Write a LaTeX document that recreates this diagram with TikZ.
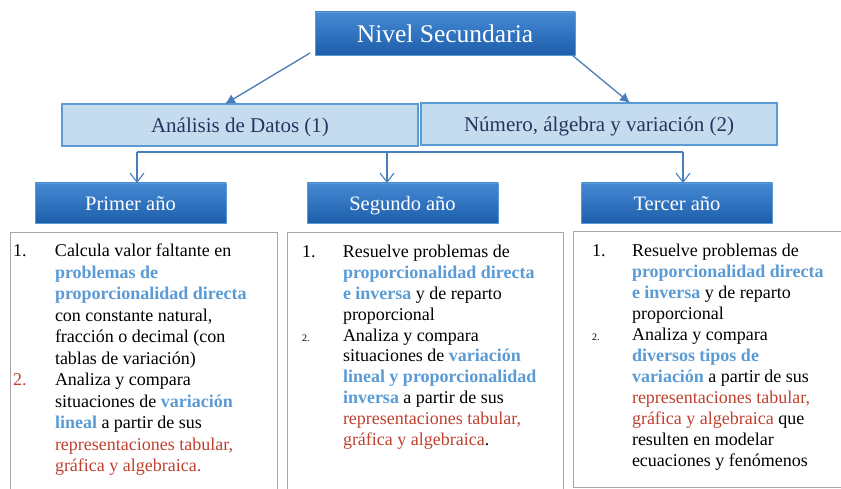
\documentclass[tikz,border=0pt]{standalone}
\usepackage{fontspec}
\setmainfont{Liberation Serif}
\usetikzlibrary{arrows.meta}
\definecolor{dkblue}{HTML}{1C5EAB}
\definecolor{mdblue}{HTML}{4689D3}
\definecolor{edgeblue}{HTML}{5B9BD5}
\definecolor{lightfill}{HTML}{C5DCEF}
\definecolor{navytext}{HTML}{26355E}
\definecolor{arrowblue}{HTML}{4A7EBB}
\definecolor{hlblue}{HTML}{5B9BD5}
\definecolor{hlred}{HTML}{C0412F}
\definecolor{panelgray}{HTML}{A6A6A6}
\newcommand{\hlB}[1]{\textcolor{hlblue}{\textbf{#1}}}
\newcommand{\hlR}[1]{\textcolor{hlred}{#1}}
\begin{document}
\begin{tikzpicture}[x=1pt,y=-1pt,
  darkbox/.style={draw=edgeblue, line width=0.6pt, top color=mdblue, bottom color=dkblue, text=white, inner sep=0pt, outer sep=0pt},
  lightbox/.style={draw=edgeblue, line width=1.4pt, fill=lightfill, text=navytext, inner sep=0pt, outer sep=0pt, minimum width=356pt, minimum height=42pt, text height=18pt, text depth=2pt, font=\fontsize{21}{25}\selectfont},
  yearbox/.style={darkbox, minimum width=191pt, minimum height=40pt, text height=18pt, text depth=2pt, font=\fontsize{20.5}{24}\selectfont},
  panel/.style={draw=panelgray, line width=1pt, fill=white, inner sep=0pt, outer sep=0pt, anchor=north west},
  itemtext/.style={anchor=base west, inner sep=0pt, outer sep=0pt},
  solidarrow/.style={draw=arrowblue, line width=1.3pt, -{Latex[length=10pt,width=10pt]}},
  openarrow/.style={draw=arrowblue, line width=1.1pt, -{Straight Barb[length=9pt,width=14pt]}},
  barline/.style={draw=arrowblue, line width=1.1pt},
]
\path[use as bounding box, clip] (0,0) rectangle (841,489);
\fill[white] (0,0) rectangle (841,489);

% top level
\node[darkbox, minimum width=260pt, minimum height=43pt, font=\fontsize{25.5}{30}\selectfont] (top) at (445,33.5) {Nivel Secundaria};

% second level
\node[lightbox] (ana) at (240,125) {Análisis de Datos (1)};
\node[lightbox] (num) at (599,124) {Número, álgebra y variación (2)};

% years
\node[yearbox] (y1) at (130.5,203) {Primer año};
\node[yearbox] (y2) at (402.5,203) {Segundo año};
\node[yearbox] (y3) at (677,203) {Tercer año};

% arrows top
\draw[solidarrow] ([shift={(-5,-2)}]top.south west) -- ([xshift=-15pt]ana.north);
\draw[solidarrow] ([xshift=-3pt]top.south east) -- ([xshift=31pt]num.north);

% bracket
\coordinate (j1) at (137,152);
\coordinate (j2) at (387,152);
\coordinate (j3) at (683,152);
\draw[barline] (j1) -- (j3);
\draw[openarrow] (j1) -- (j1 |- y1.north);
\draw[openarrow] (j2) -- (j2 |- y2.north);
\draw[openarrow] (j3) -- (j3 |- y3.north);

% panels
\node[panel, minimum width=267pt, minimum height=280pt] (p1) at (10,233) {};
\node[panel, minimum width=276pt, minimum height=280pt] (p2) at (287,233) {};
\node[panel, minimum width=290pt, minimum height=255pt] (p3) at (573,232) {};

% panel texts
\node[itemtext] (l1) at (13,257) {\fontsize{18}{21.5}\selectfont
\begin{tabular}[t]{@{}p{42pt}@{}l@{}}
1. & Calcula valor faltante en\\
 & \hlB{problemas de}\\
 & \hlB{proporcionalidad directa}\\
 & con constante natural,\\
 & fracción o decimal (con\\
 & tablas de variación)\\
\hlR{2.} & Analiza y compara\\
 & situaciones de \hlB{variación}\\
 & \hlB{lineal} a partir de sus\\
 & \hlR{representaciones tabular,}\\
 & \hlR{gráfica y algebraica.}
\end{tabular}};

\node[itemtext] (l2) at (302,258) {\fontsize{18}{20.8}\selectfont
\begin{tabular}[t]{@{}p{41pt}@{}l@{}}
1. & Resuelve problemas de\\
 & \hlB{proporcionalidad directa}\\
 & \hlB{e inversa} y de reparto\\
 & proporcional\\
{\fontsize{10}{12}\selectfont 2.} & Analiza y compara\\
 & situaciones de \hlB{variación}\\
 & \hlB{lineal y proporcionalidad}\\
 & \hlB{inversa} a partir de sus\\
 & \hlR{representaciones tabular,}\\
 & \hlR{gráfica y algebraica}.
\end{tabular}};

\node[itemtext] (l3) at (592,257) {\fontsize{18}{21}\selectfont
\begin{tabular}[t]{@{}p{40pt}@{}l@{}}
1. & Resuelve problemas de\\
 & \hlB{proporcionalidad directa}\\
 & \hlB{e inversa} y de reparto\\
 & proporcional\\
{\fontsize{10}{12}\selectfont 2.} & Analiza y compara\\
 & \hlB{diversos tipos de}\\
 & \hlB{variación} a partir de sus\\
 & \hlR{representaciones tabular,}\\
 & \hlR{gráfica y algebraica} que\\
 & resulten en modelar\\
 & ecuaciones y fenómenos
\end{tabular}};
\end{tikzpicture}
\end{document}
